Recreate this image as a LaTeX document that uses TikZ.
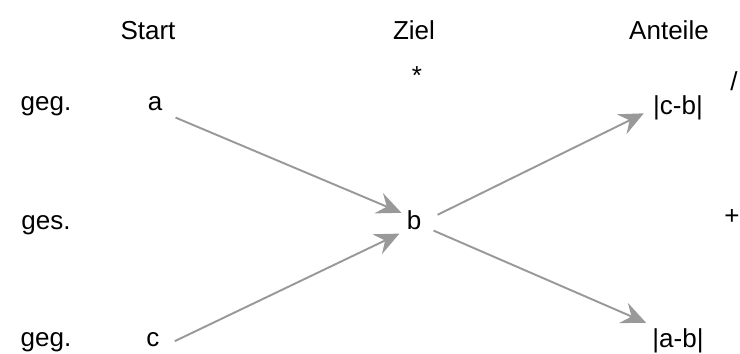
\documentclass[tikz,border=0pt]{standalone}
\usepackage{fontspec}
\setmainfont{Liberation Sans}
\usetikzlibrary{arrows.meta}

\begin{document}
\begin{tikzpicture}[
   lbl/.style={inner sep=0pt, anchor=base, font=\fontsize{14.8}{18}\selectfont},
   sym/.style={inner sep=0pt, font=\fontsize{14.8}{18}\selectfont},
   pfeil/.style={black!40, line width=1.1pt,
                 -{Stealth[length=14pt, width=12.5pt, inset=5pt]}}]
  \useasboundingbox (0,0) rectangle (14.8,7.08);
  % Kopfzeile
  \node[lbl] (start)   at (2.96,6.28)  {Start};
  \node[lbl] (ziel)    at (8.28,6.28)  {Ziel};
  \node[lbl] (anteile) at (13.38,6.28) {Anteile};
  % Zeilen
  \node[lbl] (geg1) at (0.92,4.86) {geg.};
  \node[lbl] (ges)  at (0.92,2.48) {ges.};
  \node[lbl] (geg2) at (0.92,0.14) {geg.};
  \node[lbl] (a)    at (3.10,4.86) {a};
  \node[lbl] (c)    at (3.06,0.14) {c};
  \node[lbl] (b)    at (8.28,2.48) {b};
  \node[lbl] (cb)   at (13.56,4.78) {|c-b|};
  \node[lbl] (ab)   at (13.56,0.12) {|a-b|};
  % Operatoren
  \node[sym] (mal)  at (8.34,5.56)  {*};
  \node[sym] (durch) at (14.68,5.46) {/};
  \node[sym] (plus) at (14.64,2.74) {+};
  % Pfeile
  \draw[pfeil] ([xshift=0.26cm,yshift=-0.12cm]a.south east)
     -- ([xshift=-0.1cm,yshift=-0.04cm]b.north west);
  \draw[pfeil] ([xshift=0.3cm,yshift=-0.02cm]c.east)
     -- ([xshift=-0.14cm,yshift=-0.06cm]b.south west);
  \draw[pfeil] ([xshift=0.32cm,yshift=-0.08cm]b.north east)
     -- ([xshift=-0.18cm,yshift=-0.1cm]cb.west);
  \draw[pfeil] ([xshift=0.24cm]b.south east)
     -- ([xshift=-0.12cm,yshift=0.12cm]ab.north west);
\end{tikzpicture}
\end{document}
